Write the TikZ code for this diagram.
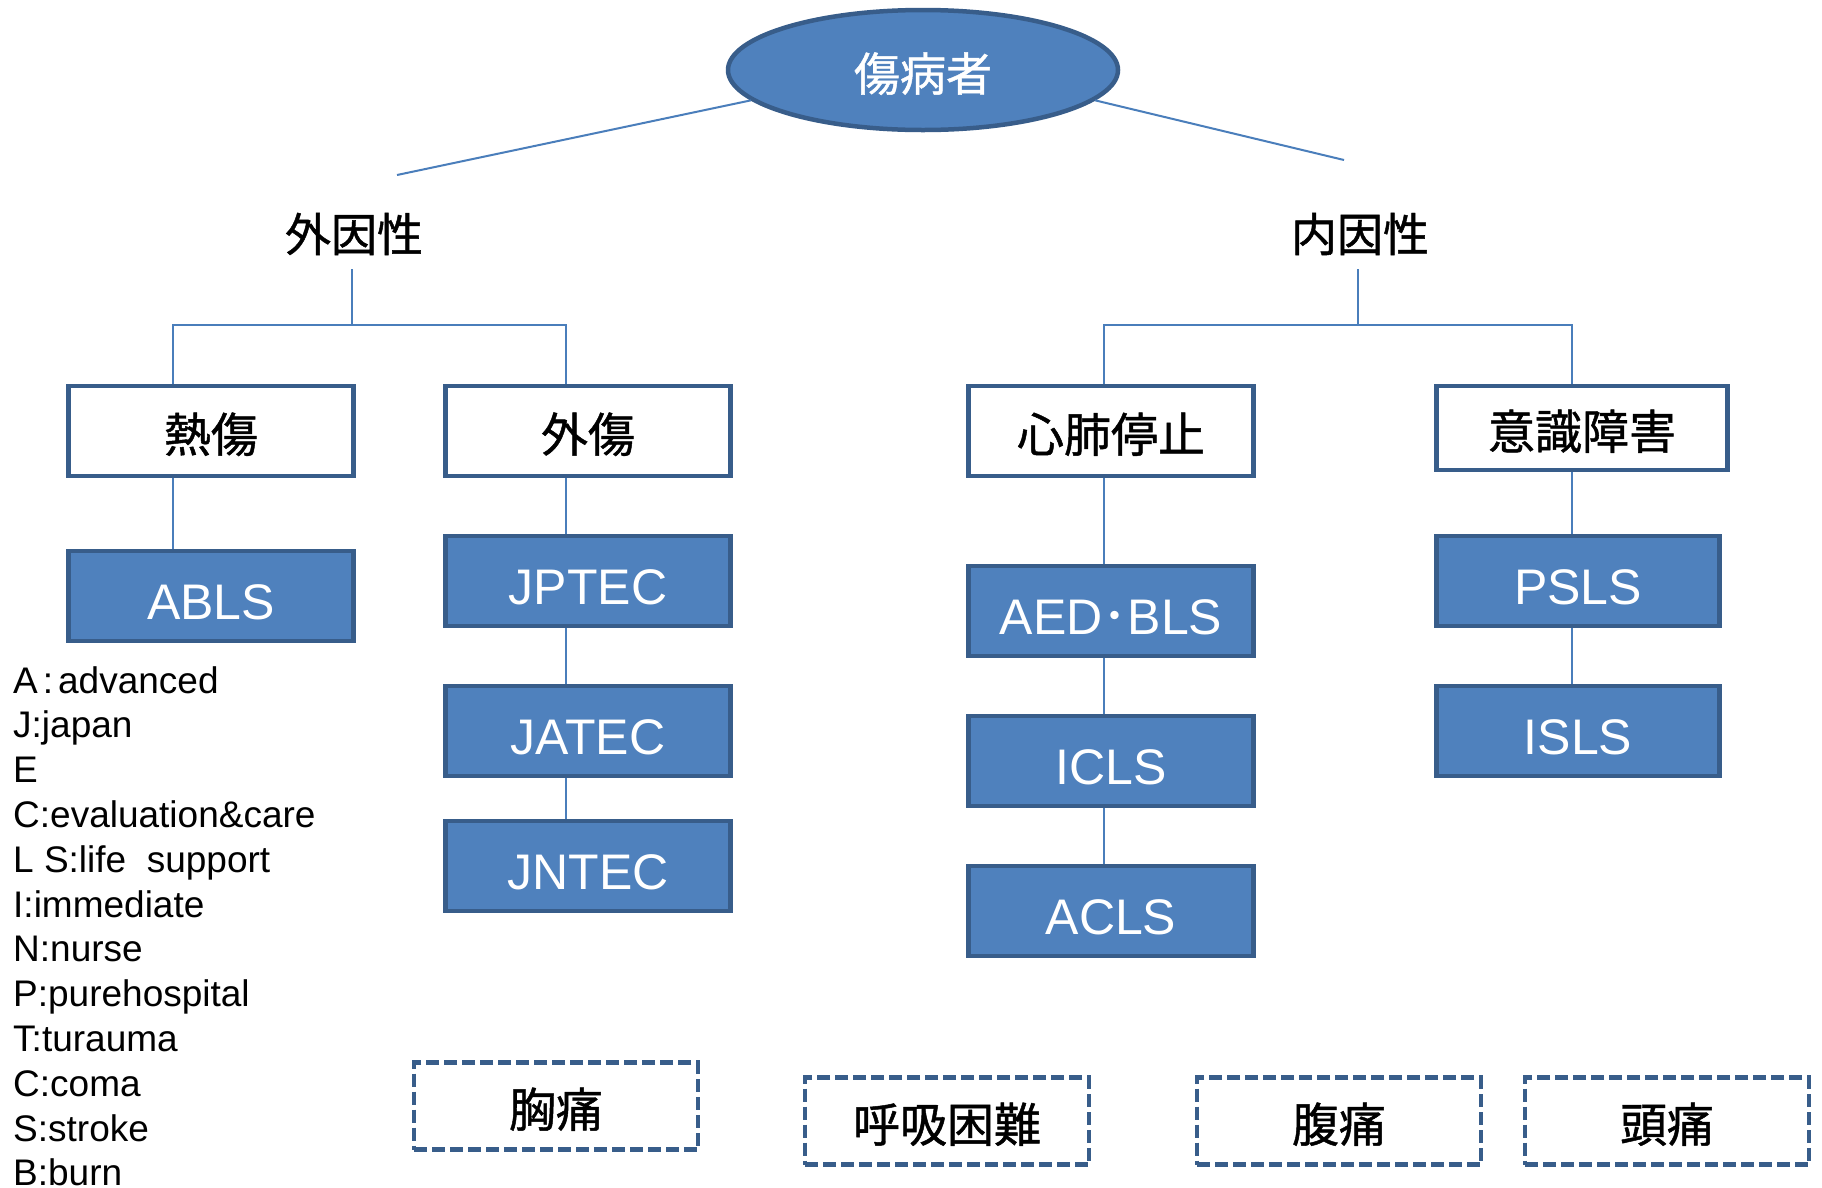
\documentclass[tikz,border=0pt]{standalone}
\usepackage{fontspec}
\setmainfont{Liberation Sans}
\newfontfamily\cjk[FakeBold=1]{Noto Sans CJK JP}
\newfontfamily\cjkdot{Noto Sans CJK JP}
\usetikzlibrary{shapes.geometric}
\definecolor{fillblue}{HTML}{4F81BD}
\definecolor{edgeblue}{HTML}{385D8A}
\definecolor{lineblue}{HTML}{4A7EBB}
\begin{document}
\begin{tikzpicture}[x=1pt,y=-1pt,
 conn/.style={draw=lineblue,line width=2pt},
 wbox/.style={draw=edgeblue,line width=4.5pt,fill=white,minimum width=285pt,minimum height=90pt,inner sep=0pt,text height=42pt,text depth=0pt,font={\cjk\fontsize{47}{56}\selectfont}},
 bbox/.style={draw=edgeblue,line width=4.5pt,fill=fillblue,minimum width=285pt,minimum height=90pt,inner sep=0pt,text=white,text height=46pt,text depth=0pt,font={\fontsize{50}{60}\selectfont}},
 dbox/.style={draw=edgeblue,line width=4.5pt,dash pattern=on 13pt off 5pt,minimum width=284pt,minimum height=87pt,inner sep=0pt,text height=42pt,text depth=0pt,font={\cjk\fontsize{47}{56}\selectfont}},
 cat/.style={inner sep=0pt,minimum height=70pt,font={\cjk\fontsize{46}{56}\selectfont}},
 legend/.style={anchor=base west,inner sep=0pt,font={\fontsize{37}{44.8}\selectfont}}
]
\useasboundingbox[fill=white] (0,0) rectangle (1822,1187);

% top ellipse
\node[ellipse,draw=edgeblue,line width=4.5pt,fill=fillblue,minimum width=390pt,minimum height=120pt,inner sep=0pt,text=white,text height=42pt,text depth=0pt,font={\cjk\fontsize{46}{56}\selectfont}] (top) at (923,70) {傷病者};

% categories
\node[cat] (gaiin) at (354,234) {外因性};
\node[cat] (naiin) at (1360,234) {内因性};

% white boxes
\node[wbox] (netsu) at (211,431) {熱傷};
\node[wbox] (gaisho) at (588,431) {外傷};
\node[wbox] (shinpai) at (1111,431) {心肺停止};
\node[wbox,minimum width=291pt,minimum height=84pt] (ishiki) at (1582,428) {意識障害};

% blue boxes
\node[bbox] (abls) at (211,596) {ABLS};
\node[bbox] (jptec) at (588,581) {JPTEC};
\node[bbox] (jatec) at (588,731) {JATEC};
\node[bbox] (jntec) at (588,866) {JNTEC};
\node[bbox] (aed) at (1111,611) {AED{\cjkdot ･}BLS};
\node[bbox] (icls) at (1111,761) {ICLS};
\node[bbox] (acls) at (1111,911) {ACLS};
\node[bbox,minimum width=283pt] (psls) at (1578,581) {PSLS};
\node[bbox,minimum width=283pt] (isls) at (1578,731) {ISLS};

% dashed boxes
\node[dbox] (kyotsu) at (556,1106) {胸痛};
\node[dbox] (kokyu) at (947,1121) {呼吸困難};
\node[dbox] (fukutsu) at (1339,1121) {腹痛};
\node[dbox] (zutsu) at (1667,1121) {頭痛};

% helper coordinates
\coordinate (xl) at (173,0);
\coordinate (xg) at (566,0);
\coordinate (xs) at (1104,0);
\coordinate (xi) at (1572,0);
\coordinate (jl) at (352,325);
\coordinate (jr) at (1358,325);
\coordinate (le) at (397,175);
\coordinate (re) at (1344,160);

% connectors
\draw[conn] (top.190) -- (le);
\draw[conn] (top.350) -- (re);
\draw[conn] (gaiin.south -| jl) -- (jl);
\draw[conn] (naiin.south -| jr) -- (jr);
\draw[conn] (netsu.north -| xl) |- (jl) -| (gaisho.north -| xg);
\draw[conn] (shinpai.north -| xs) |- (jr) -| (ishiki.north -| xi);
\draw[conn] (netsu.south -| xl) -- (abls.north -| xl);
\draw[conn] (gaisho.south -| xg) -- (jptec.north -| xg);
\draw[conn] (jptec.south -| xg) -- (jatec.north -| xg);
\draw[conn] (jatec.south -| xg) -- (jntec.north -| xg);
\draw[conn] (shinpai.south -| xs) -- (aed.north -| xs);
\draw[conn] (aed.south -| xs) -- (icls.north -| xs);
\draw[conn] (icls.south -| xs) -- (acls.north -| xs);
\draw[conn] (ishiki.south -| xi) -- (psls.north -| xi);
\draw[conn] (psls.south -| xi) -- (isls.north -| xi);

% legend
\foreach \t [count=\i] in {A\kern5pt:\kern5pt advanced,J:japan,E,C:evaluation\&care,L S:life\ \ support,I:immediate,N:nurse,P:purehospital,T:turauma,C:coma,S:stroke,B:burn}
  \node[legend] (leg\i) at (13,{693+44.8*(\i-1)}) {\t};
\end{tikzpicture}
\end{document}
